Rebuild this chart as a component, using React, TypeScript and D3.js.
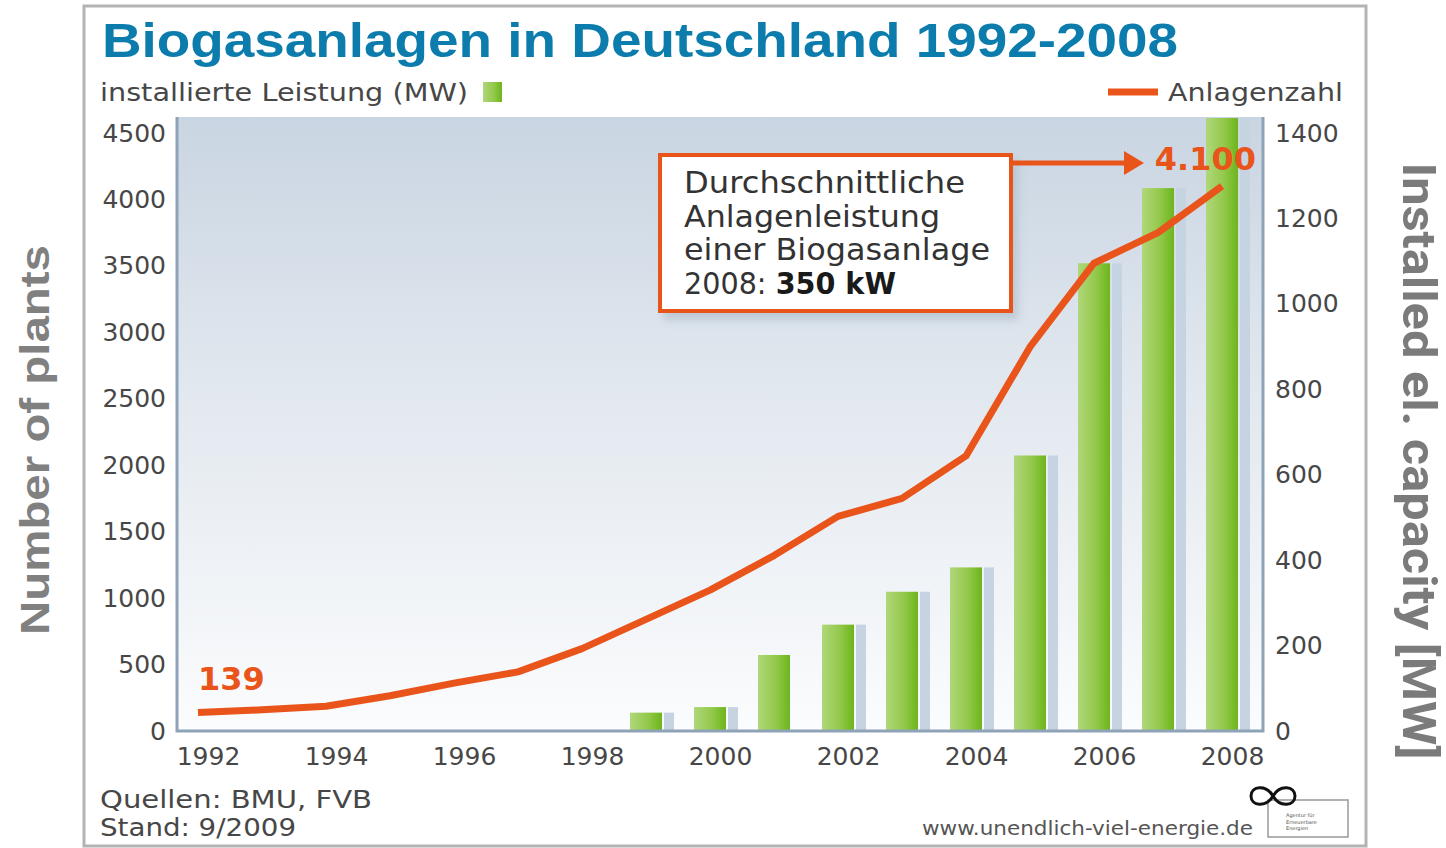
import React, { useEffect, useRef } from "react";
import * as d3 from "d3";

// Biogasanlagen in Deutschland 1992-2008 (Anlagenzahl + installierte Leistung)

const W = 1446;
const H = 848;

const years = [1992, 1993, 1994, 1995, 1996, 1997, 1998, 1999, 2000, 2001, 2002, 2003, 2004, 2005, 2006, 2007, 2008];
const plantCount = [139, 159, 186, 265, 360, 445, 620, 840, 1060, 1320, 1615, 1750, 2070, 2890, 3520, 3750, 4100];

const capacityYears = [1999, 2000, 2001, 2002, 2003, 2004, 2005, 2006, 2007, 2008];
const capacityMW = [43, 56, 178, 249, 326, 383, 645, 1095, 1271, 1435];

const plantTicks = [0, 500, 1000, 1500, 2000, 2500, 3000, 3500, 4000, 4500];
const capacityTicks = [0, 200, 400, 600, 800, 1000, 1200, 1400];
const yearTicks = [1992, 1994, 1996, 1998, 2000, 2002, 2004, 2006, 2008];

const boxLines = ["Durchschnittliche", "Anlagenleistung", "einer Biogasanlage"];
const boxLineWidths = [281, 256, 306];

const ORANGE = "#e9541b";
const AXIS = "#8ea3b8";
const TXT = "#474747";
const FONT = "'DejaVu Sans', sans-serif";

export default function App() {
  const ref = useRef<SVGSVGElement>(null);

  useEffect(() => {
    const svg = d3.select(ref.current);
    svg.selectAll("*").remove();

    const plot = { left: 177, right: 1263, top: 117, bottom: 731 };

    const x = d3.scalePoint<number>().domain(years).range([198, 1222]);
    const yL = d3.scaleLinear().domain([0, 4500]).range([plot.bottom, 133]);
    const yR = d3.scaleLinear().domain([0, 1400]).range([plot.bottom, 133]);

    const defs = svg.append("defs");
    const bg = defs.append("linearGradient").attr("id", "plotBg").attr("x1", 0).attr("y1", 0).attr("x2", 0).attr("y2", 1);
    bg.append("stop").attr("offset", "0%").attr("stop-color", "#c9d5e2");
    bg.append("stop").attr("offset", "45%").attr("stop-color", "#e2e8ef");
    bg.append("stop").attr("offset", "100%").attr("stop-color", "#fbfcfd");

    const green = defs.append("linearGradient").attr("id", "barGreen").attr("x1", 0).attr("y1", 0).attr("x2", 1).attr("y2", 0);
    green.append("stop").attr("offset", "0%").attr("stop-color", "#b0d77a");
    green.append("stop").attr("offset", "55%").attr("stop-color", "#93c94b");
    green.append("stop").attr("offset", "100%").attr("stop-color", "#6db51c");

    const blur = defs.append("filter").attr("id", "soft").attr("x", "-10%").attr("y", "-10%").attr("width", "130%").attr("height", "130%");
    blur.append("feGaussianBlur").attr("stdDeviation", 4);

    // outer frame
    svg.append("rect").attr("x", 84).attr("y", 6).attr("width", 1282).attr("height", 840)
      .attr("fill", "#fff").attr("stroke", "#b3b3b3").attr("stroke-width", 3);

    // title + legend row
    svg.append("text").attr("x", 102).attr("y", 57).text("Biogasanlagen in Deutschland 1992-2008")
      .attr("font-family", "'Liberation Sans', Arial, sans-serif").attr("font-weight", "bold")
      .attr("font-size", 48).attr("fill", "#0c7cad")
      .attr("textLength", 1076).attr("lengthAdjust", "spacingAndGlyphs");

    svg.append("text").attr("x", 100).attr("y", 101).text("installierte Leistung (MW)")
      .attr("font-family", FONT).attr("font-size", 25).attr("fill", TXT)
      .attr("textLength", 368).attr("lengthAdjust", "spacingAndGlyphs");
    svg.append("rect").attr("x", 483).attr("y", 82).attr("width", 19).attr("height", 20).attr("fill", "url(#barGreen)");

    svg.append("line").attr("x1", 1108).attr("x2", 1158).attr("y1", 92).attr("y2", 92)
      .attr("stroke", ORANGE).attr("stroke-width", 7);
    svg.append("text").attr("x", 1168).attr("y", 101).text("Anlagenzahl")
      .attr("font-family", FONT).attr("font-size", 25).attr("fill", TXT)
      .attr("textLength", 175).attr("lengthAdjust", "spacingAndGlyphs");

    // plot background
    svg.append("rect").attr("x", plot.left).attr("y", plot.top)
      .attr("width", plot.right - plot.left).attr("height", plot.bottom - plot.top)
      .attr("fill", "url(#plotBg)");

    // bars (capacity, right axis) with pale shadow strip
    const bars = capacityYears.map((yr, i) => ({ yr, v: capacityMW[i] }));
    svg.append("g").selectAll("rect")
      .data(bars.filter(d => d.yr !== 2001)) // 2001 has no shadow strip in the original
      .join("rect")
      .attr("x", d => x(d.yr)! + 18)
      .attr("y", d => yR(d.v))
      .attr("width", 10)
      .attr("height", d => plot.bottom - yR(d.v))
      .attr("fill", "#c6d3e1");
    svg.append("g").selectAll("rect")
      .data(bars)
      .join("rect")
      .attr("x", d => x(d.yr)! - 16)
      .attr("y", d => yR(d.v))
      .attr("width", 32)
      .attr("height", d => plot.bottom - yR(d.v))
      .attr("fill", "url(#barGreen)");

    // axis lines
    svg.append("path")
      .attr("d", `M${plot.left},${plot.top}V${plot.bottom}H${plot.right}V${plot.top}`)
      .attr("fill", "none").attr("stroke", AXIS).attr("stroke-width", 3);

    // left axis (plants)
    const gl = svg.append("g").attr("transform", `translate(${plot.left},0)`)
      .call(d3.axisLeft(yL).tickValues(plantTicks).tickSize(0).tickPadding(11).tickFormat(d3.format("d")));
    // right axis (MW)
    const gr = svg.append("g").attr("transform", `translate(${plot.right},0)`)
      .call(d3.axisRight(yR).tickValues(capacityTicks).tickSize(0).tickPadding(12).tickFormat(d3.format("d")));
    // x axis
    const gx = svg.append("g").attr("transform", `translate(10,${plot.bottom})`)
      .call(d3.axisBottom(x).tickValues(yearTicks).tickSize(0).tickPadding(16).tickFormat(d3.format("d")));
    [gl, gr, gx].forEach(g => {
      g.select(".domain").remove();
      g.selectAll("text").attr("font-family", FONT).attr("font-size", 25).attr("fill", TXT);
    });

    // plant count line
    const line = d3.line<number>().x((_, i) => x(years[i])!).y(d => yL(d));
    svg.append("path").datum(plantCount).attr("d", line)
      .attr("fill", "none").attr("stroke", ORANGE).attr("stroke-width", 7)
      .attr("stroke-linejoin", "round");

    svg.append("text").attr("x", 198).attr("y", 690).text(String(plantCount[0]))
      .attr("font-family", FONT).attr("font-weight", "bold").attr("font-size", 32).attr("fill", ORANGE);
    svg.append("text").attr("x", 1256).attr("y", 170).attr("text-anchor", "end")
      .text(d3.format(",")(plantCount[plantCount.length - 1]).replace(",", "."))
      .attr("font-family", FONT).attr("font-weight", "bold").attr("font-size", 32).attr("fill", ORANGE);

    // annotation box
    svg.append("rect").attr("x", 664).attr("y", 160).attr("width", 354).attr("height", 160)
      .attr("fill", "#9fb0c2").attr("opacity", 0.5).attr("filter", "url(#soft)");
    svg.append("rect").attr("x", 660).attr("y", 155).attr("width", 351).attr("height", 156)
      .attr("fill", "#fff").attr("stroke", ORANGE).attr("stroke-width", 4);
    boxLines.forEach((t, i) => {
      svg.append("text").attr("x", 684).attr("y", 193 + i * 33.5).text(t)
        .attr("font-family", FONT).attr("font-size", 30).attr("fill", "#333")
        .attr("textLength", boxLineWidths[i]).attr("lengthAdjust", "spacingAndGlyphs");
    });
    const last = svg.append("text").attr("x", 684).attr("y", 294)
      .attr("font-family", FONT).attr("font-size", 30).attr("fill", "#333")
      .attr("textLength", 212).attr("lengthAdjust", "spacingAndGlyphs");
    last.append("tspan").text("2008: ");
    last.append("tspan").attr("font-weight", "bold").attr("fill", "#1a1a1a").text("350 kW");

    // arrow to 4.100
    svg.append("line").attr("x1", 1013).attr("x2", 1128).attr("y1", 163).attr("y2", 163)
      .attr("stroke", ORANGE).attr("stroke-width", 5);
    svg.append("path").attr("d", "M1124,151L1144,163L1124,175Z").attr("fill", ORANGE);

    // footer
    svg.append("text").attr("x", 100).attr("y", 808).text("Quellen: BMU, FVB")
      .attr("font-family", FONT).attr("font-size", 25).attr("fill", TXT)
      .attr("textLength", 272).attr("lengthAdjust", "spacingAndGlyphs");
    svg.append("text").attr("x", 100).attr("y", 836).text("Stand: 9/2009")
      .attr("font-family", FONT).attr("font-size", 25).attr("fill", TXT)
      .attr("textLength", 196).attr("lengthAdjust", "spacingAndGlyphs");
    svg.append("text").attr("x", 922).attr("y", 835).text("www.unendlich-viel-energie.de")
      .attr("font-family", FONT).attr("font-size", 19).attr("fill", "#555")
      .attr("textLength", 331).attr("lengthAdjust", "spacingAndGlyphs");

    // logo: infinity loops + small box
    svg.append("rect").attr("x", 1268).attr("y", 800).attr("width", 80).attr("height", 37)
      .attr("fill", "#fff").attr("stroke", "#999").attr("stroke-width", 1.5);
    svg.append("path")
      .attr("d", "M1273,796 C1266,784 1251,786 1251,796 C1251,806 1266,808 1273,796 C1280,784 1295,786 1295,796 C1295,806 1280,808 1273,796Z")
      .attr("fill", "none").attr("stroke", "#111").attr("stroke-width", 3);
    ["Agentur für", "Erneuerbare", "Energien"].forEach((t, i) => {
      svg.append("text").attr("x", 1286).attr("y", 817 + i * 6.5).text(t)
        .attr("font-family", FONT).attr("font-size", 5).attr("fill", "#555");
    });

    // outer axis titles
    svg.append("text").attr("transform", "translate(49,440) rotate(-90)").attr("text-anchor", "middle")
      .text("Number of plants")
      .attr("font-family", "'Liberation Sans', Arial, sans-serif").attr("font-weight", "bold")
      .attr("font-size", 41).attr("fill", "#808080")
      .attr("textLength", 390).attr("lengthAdjust", "spacingAndGlyphs");
    svg.append("text").attr("transform", "translate(1403,461) rotate(90)").attr("text-anchor", "middle")
      .text("Installed el. capacity [MW]")
      .attr("font-family", "Roboto, sans-serif").attr("font-weight", "bold")
      .attr("font-size", 47).attr("fill", "#7b7b7b")
      .attr("textLength", 597).attr("lengthAdjust", "spacingAndGlyphs");
  }, []);

  return (
    <svg ref={ref} width={W} height={H}
      style={{ position: "absolute", left: 0, top: 0, background: "#fff" }} />
  );
}
